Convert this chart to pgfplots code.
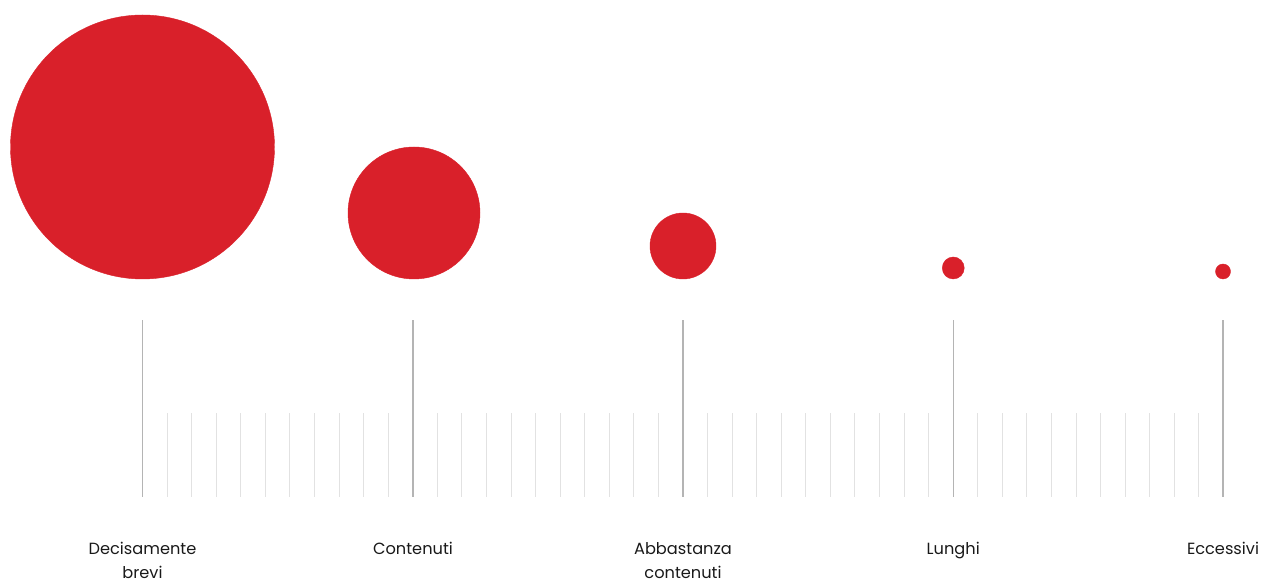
\documentclass[border=0pt]{standalone}
\usepackage{pgfplots}
\pgfplotsset{compat=1.18}
\usepackage{fontspec}
\setmainfont{Poppins}
\definecolor{cred}{HTML}{D9202A}
\definecolor{major}{HTML}{B4B4B4}
\definecolor{minor}{HTML}{E2E2E2}
\begin{document}
\begin{tikzpicture}
\begin{axis}[
  width=1266pt, height=583pt, scale only axis,
  xmin=0, xmax=1266, ymin=-86, ymax=497,
  hide axis, clip=false,
]
\path (rel axis cs:0,0) rectangle (rel axis cs:1,1);
% minor ruler lines
\addplot[ycomb, draw=minor, line width=1pt, mark=none] coordinates {
(167.07,84)(191.64,84)(216.2,84)(240.77,84)(265.34,84)(289.91,84)(314.48,84)(339.05,84)(363.61,84)(388.18,84)
(437.32,84)(461.89,84)(486.45,84)(511.02,84)(535.59,84)(560.16,84)(584.73,84)(609.3,84)(633.86,84)(658.43,84)
(707.57,84)(732.14,84)(756.7,84)(781.27,84)(805.84,84)(830.41,84)(854.98,84)(879.55,84)(904.11,84)(928.68,84)
(977.82,84)(1002.39,84)(1026.95,84)(1051.52,84)(1076.09,84)(1100.66,84)(1125.23,84)(1149.8,84)(1174.36,84)(1198.93,84)
};
% major ruler lines
\addplot[ycomb, draw=major, line width=1.2pt, mark=none] coordinates {
(142.5,177)(413,177)(683,177)(953.25,177)(1223,177)
};
% bubbles
\addplot[scatter, only marks, mark=*,
  scatter/use mapped color={fill=cred, draw=cred},
  visualization depends on={\thisrow{r} \as \rad},
  scatter/@pre marker code/.append style={/tikz/mark size=\rad, /tikz/draw=none, /tikz/fill=cred}]
  table[x=x, y=y] {
x y r
142.5 350 132
414 284 66
683 251 33
953.25 229 11
1223 225.5 7.5
};
\begin{scope}[every node/.style={font=\fontsize{16.2}{19}\selectfont, text=black!90, anchor=base, inner sep=0pt}]
\node at (axis cs:142.5,-58) {Decisamente};
\node at (axis cs:142.5,-82) {brevi};
\node at (axis cs:413,-58) {Contenuti};
\node at (axis cs:683,-58) {Abbastanza};
\node at (axis cs:683,-82) {contenuti};
\node at (axis cs:953.25,-58) {Lunghi};
\node at (axis cs:1223,-58) {Eccessivi};
\end{scope}
\end{axis}
\end{tikzpicture}
\end{document}
